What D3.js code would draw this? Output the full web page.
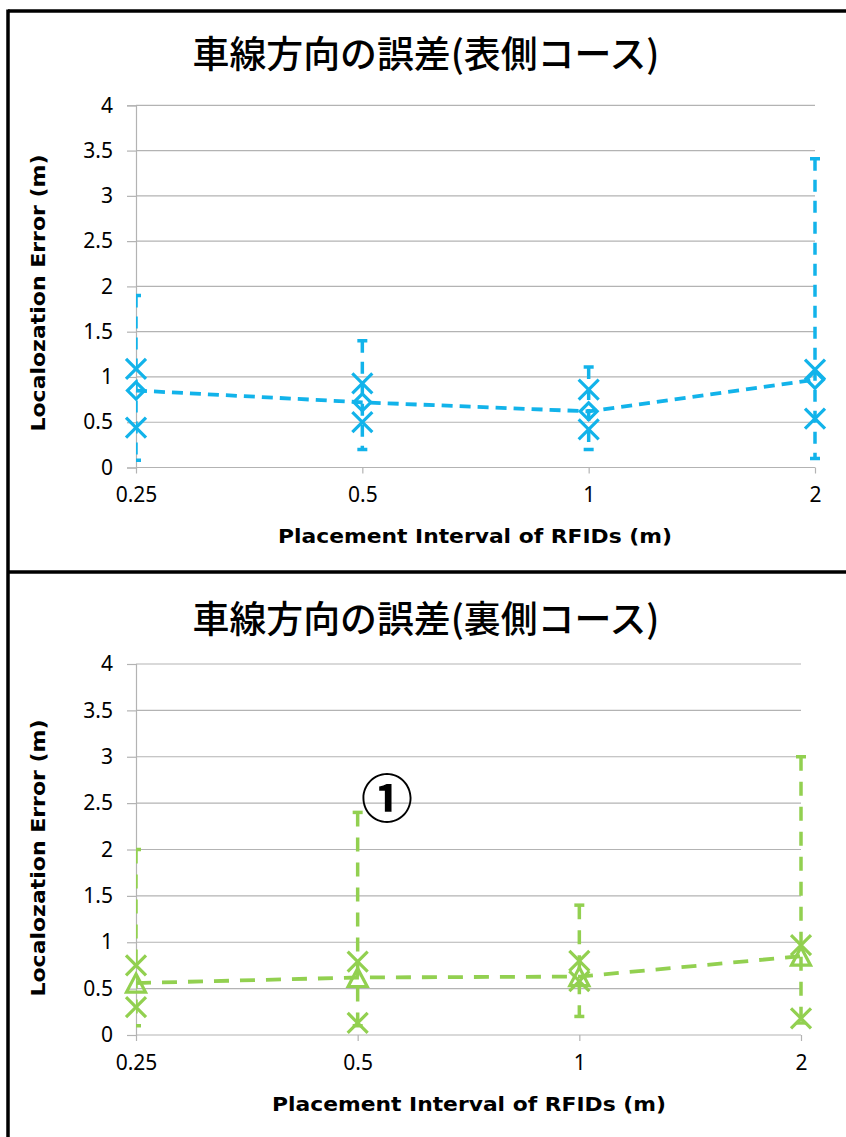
<!DOCTYPE html>
<html>
<head>
<meta charset="utf-8">
<script src="https://cdn.jsdelivr.net/npm/d3@7"></script>
<style>
  html, body { margin: 0; padding: 0; background: #fff; }
  svg { display: block; }
</style>
</head>
<body>
<svg id="chart" width="846" height="1137"></svg>
<script>
// Placement intervals (x categories)
const intervals = ["0.25", "0.5", "1", "2"];
const yTicks = [0, 0.5, 1, 1.5, 2, 2.5, 3, 3.5, 4];

// Front course (表側コース)
const frontMean   = [0.85, 0.72, 0.62, 0.97];
const frontMax    = [1.90, 1.40, 1.11, 3.41];
const frontMin    = [0.08, 0.20, 0.20, 0.10];
const frontUpperX = [1.09, 0.93, 0.86, 1.08];
const frontLowerX = [0.44, 0.50, 0.42, 0.54];

// Back course (裏側コース)
const backMean   = [0.56, 0.62, 0.63, 0.85];
const backMax    = [2.00, 2.40, 1.40, 3.00];
const backMin    = [0.10, 0.10, 0.20, 0.13];
const backUpperX = [0.75, 0.79, 0.80, 0.97];
const backLowerX = [0.30, 0.13, 0.58, 0.18];

const svg = d3.select("#chart");
const W = 846, H = 1137;

svg.append("rect").attr("width", W).attr("height", H).attr("fill", "#fff");

// panel frames
const frame = svg.append("g").attr("stroke", "#000").attr("stroke-width", 3.5).attr("fill", "none");
frame.append("line").attr("x1", 8).attr("x2", W).attr("y1", 11).attr("y2", 11);
frame.append("line").attr("x1", 8).attr("x2", 8).attr("y1", 9.5).attr("y2", H);
frame.append("line").attr("x1", 8).attr("x2", W).attr("y1", 572).attr("y2", 572);

const tickFont = "'Noto Sans', 'DejaVu Sans', sans-serif";
const boldFont = "'DejaVu Sans', 'Noto Sans', sans-serif";
const cjkFont = "'Noto Sans CJK JP', sans-serif";

function drawChart(cfg) {
  const g = svg.append("g");
  const x = d3.scalePoint().domain(intervals).range([cfg.left, cfg.right]).padding(0);
  const y = d3.scaleLinear().domain([0, 4]).range([cfg.bottom, cfg.top]);

  // title
  g.append("text")
    .attr("x", cfg.titleX).attr("y", cfg.titleY)
    .attr("text-anchor", "middle")
    .attr("font-family", cjkFont).attr("font-weight", 500)
    .attr("font-size", 37)
    .attr("textLength", 467).attr("lengthAdjust", "spacingAndGlyphs")
    .attr("fill", "#000")
    .text(cfg.title);

  // horizontal gridlines
  g.append("g").selectAll("line").data(yTicks).join("line")
    .attr("x1", cfg.left).attr("x2", cfg.right)
    .attr("y1", d => y(d)).attr("y2", d => y(d))
    .attr("stroke", "#b3b3b3").attr("stroke-width", 1.2);

  // y axis
  const yAxis = g.append("g").attr("transform", `translate(${cfg.left},0)`)
    .call(d3.axisLeft(y).tickValues(yTicks).tickSize(9).tickPadding(14).tickFormat(d3.format("")));
  yAxis.select(".domain").attr("stroke", "#b3b3b3").attr("stroke-width", 1.2);
  yAxis.selectAll(".tick line").attr("stroke", "#b3b3b3").attr("stroke-width", 1.2);
  yAxis.selectAll(".tick text").attr("font-family", tickFont).attr("font-size", 21).attr("fill", "#000");

  // x axis
  const xAxis = g.append("g").attr("transform", `translate(0,${cfg.bottom})`)
    .call(d3.axisBottom(x).tickSize(6).tickPadding(14).tickSizeOuter(0));
  xAxis.select(".domain").remove();
  xAxis.selectAll(".tick line").attr("stroke", "#b3b3b3").attr("stroke-width", 1.2);
  xAxis.selectAll(".tick text").attr("font-family", tickFont).attr("font-size", 21).attr("fill", "#000");

  // axis titles
  g.append("text")
    .attr("transform", `translate(${cfg.yTitleX},${cfg.yTitleY}) rotate(-90)`)
    .attr("text-anchor", "middle")
    .attr("font-family", boldFont).attr("font-weight", "bold").attr("font-size", 19)
    .attr("textLength", 277).attr("lengthAdjust", "spacingAndGlyphs")
    .attr("fill", "#000")
    .text("Localozation Error (m)");
  g.append("text")
    .attr("x", cfg.xTitleX).attr("y", cfg.xTitleY)
    .attr("text-anchor", "middle")
    .attr("font-family", boldFont).attr("font-weight", "bold").attr("font-size", 20)
    .attr("textLength", 394).attr("lengthAdjust", "spacingAndGlyphs")
    .attr("fill", "#000")
    .text("Placement Interval of RFIDs (m)");

  const rows = intervals.map((k, i) => ({
    k, mean: cfg.mean[i], max: cfg.max[i], min: cfg.min[i], ux: cfg.upperX[i], lx: cfg.lowerX[i]
  }));
  const col = cfg.color;

  // clip for range bars (plot area)
  const clipId = "clip" + cfg.id;
  g.append("clipPath").attr("id", clipId).append("rect")
    .attr("x", cfg.left).attr("y", cfg.top - 20)
    .attr("width", cfg.right - cfg.left + 20).attr("height", cfg.bottom - cfg.top + 40);

  // range bars (min to max), dashed with caps
  const bars = g.append("g").attr("clip-path", `url(#${clipId})`)
    .attr("stroke", col).attr("stroke-width", 3.5).attr("fill", "none");
  bars.selectAll("line.v").data(rows).join("line").attr("class", "v")
    .attr("x1", d => x(d.k)).attr("x2", d => x(d.k))
    .attr("y1", d => y(d.max)).attr("y2", d => y(d.min))
    .attr("stroke-dasharray", cfg.barDash);
  bars.selectAll("line.ct").data(rows).join("line").attr("class", "ct")
    .attr("x1", d => x(d.k) - 5).attr("x2", d => x(d.k) + 5)
    .attr("y1", d => y(d.max)).attr("y2", d => y(d.max));
  bars.selectAll("line.cb").data(rows).join("line").attr("class", "cb")
    .attr("x1", d => x(d.k) - 5).attr("x2", d => x(d.k) + 5)
    .attr("y1", d => y(d.min)).attr("y2", d => y(d.min));

  // mean line
  g.append("path").datum(rows)
    .attr("d", d3.line().x(d => x(d.k)).y(d => y(d.mean)))
    .attr("fill", "none").attr("stroke", col).attr("stroke-width", 3.8)
    .attr("stroke-dasharray", cfg.lineDash);

  // x-shaped markers for upper and lower values
  const xs = [];
  rows.forEach(d => { xs.push({ k: d.k, v: d.ux }); xs.push({ k: d.k, v: d.lx }); });
  const s = 10;
  g.append("g").selectAll("path").data(xs).join("path")
    .attr("d", d => {
      const cx = x(d.k), cy = y(d.v);
      return `M${cx - s},${cy - s}L${cx + s},${cy + s}M${cx - s},${cy + s}L${cx + s},${cy - s}`;
    })
    .attr("fill", "none").attr("stroke", col).attr("stroke-width", 3.2);

  // mean markers
  g.append("g").selectAll("path").data(rows).join("path")
    .attr("d", d => {
      const cx = x(d.k), cy = y(d.mean);
      if (cfg.marker === "diamond") {
        const r = 8.5;
        return `M${cx},${cy - r}L${cx + r},${cy}L${cx},${cy + r}L${cx - r},${cy}Z`;
      }
      const hw = 9.5, hh = 9;
      return `M${cx},${cy - hh}L${cx + hw},${cy + hh}L${cx - hw},${cy + hh}Z`;
    })
    .attr("fill", "none").attr("stroke", col).attr("stroke-width", 3.2);

  return { x, y, g };
}

drawChart({
  id: "front", title: "車線方向の誤差(表側コース)",
  left: 136, right: 815, top: 105.3, bottom: 467.5,
  titleX: 426, titleY: 68,
  yTitleX: 45, yTitleY: 293,
  xTitleX: 475, xTitleY: 543,
  mean: frontMean, max: frontMax, min: frontMin, upperX: frontUpperX, lowerX: frontLowerX,
  color: "#12b3ea", marker: "diamond", barDash: "12,9", lineDash: "11,7"
});

const back = drawChart({
  id: "back", title: "車線方向の誤差(裏側コース)",
  left: 136, right: 801, top: 664, bottom: 1035,
  titleX: 426, titleY: 633,
  yTitleX: 45, yTitleY: 858,
  xTitleX: 469, xTitleY: 1111,
  mean: backMean, max: backMax, min: backMin, upperX: backUpperX, lowerX: backLowerX,
  color: "#92d050", marker: "triangle", barDash: "14,11", lineDash: "15,11"
});

// circled annotation near the 0.5 m interval
back.g.append("text")
  .attr("x", 387).attr("y", 818)
  .attr("text-anchor", "middle")
  .attr("font-family", cjkFont).attr("font-weight", "bold").attr("font-size", 52)
  .attr("fill", "#000")
  .text("①");
</script>
</body>
</html>
